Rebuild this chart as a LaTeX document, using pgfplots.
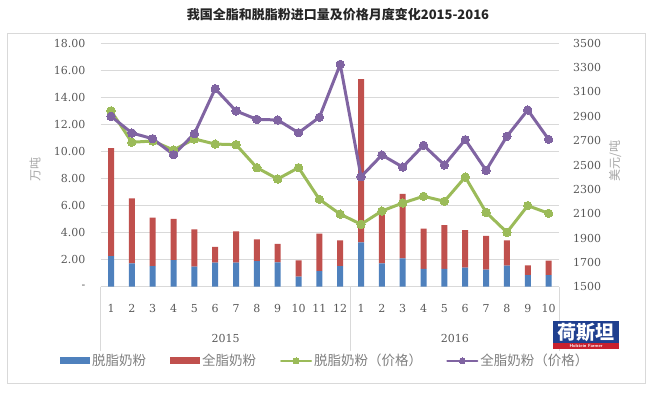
\documentclass[border=0pt]{standalone}
\usepackage{pgfplots}
\pgfplotsset{compat=1.18}
\usepackage{fontspec}
\setmainfont{DejaVu Serif}
\newfontfamily\cjk{Noto Sans CJK SC}
\definecolor{cblue}{HTML}{4F81BD}
\definecolor{cred}{HTML}{C0504D}
\definecolor{cgreen}{HTML}{9BBB59}
\definecolor{cpurple}{HTML}{8064A2}
\definecolor{gridcol}{HTML}{D9D9D9}
\definecolor{tickcol}{HTML}{595959}
\definecolor{labcol}{HTML}{A6A6A6}
\definecolor{legcol}{HTML}{7F7F7F}
\definecolor{titlecol}{HTML}{262626}
\definecolor{logoblue}{HTML}{1F3F8F}
\definecolor{logored}{HTML}{C8202E}
\pgfplotsset{
  barleg/.style={legend image code/.code={\fill[##1] (0pt,-3.5pt) rectangle (30pt,3.5pt);}},
  lineleg/.style={legend image code/.code={\draw[##1, line width=2.2pt, mark size=3pt, mark repeat=2, mark phase=2] plot coordinates {(0pt,0pt) (15pt,0pt) (30pt,0pt)};}},
}
\begin{document}
\begin{tikzpicture}[x=1pt,y=1pt]
\useasboundingbox (0,0) rectangle (647,392);
\draw[gridcol, line width=0.8pt] (7,9) rectangle (645,359);
\node[font=\cjk\bfseries\fontsize{13}{15}\selectfont, text=titlecol] at (338,377) {我国全脂和脱脂粉进口量及价格月度变化2015-2016};
\node[rotate=90, font=\cjk\fontsize{12}{14}\selectfont, text=labcol] at (35,223) {万吨};
\node[rotate=90, font=\cjk\fontsize{12}{14}\selectfont, text=labcol] at (615,231) {美元/吨};

\begin{axis}[
  at={(100.6pt,105.3pt)}, anchor=south west,
  scale only axis, width=458.4pt, height=243.4pt,
  xmin=-0.5, xmax=21.5, ymin=0, ymax=18,
  ybar stacked, bar width=6pt,
  axis x line*=bottom, axis y line*=left,
  x axis line style={gridcol, line width=0.8pt},
  y axis line style={draw=none},
  tick style={draw=none},
  xtick={0,...,21},
  xticklabels={1,2,3,4,5,6,7,8,9,10,11,12,1,2,3,4,5,6,7,8,9,10},
  xticklabel style={anchor=center, inner sep=0pt, yshift=-22pt, font=\fontsize{11}{13}\selectfont, text=tickcol},
  ytick={0,2,4,6,8,10,12,14,16,18},
  yticklabels={{-\hspace{8pt}},2.00,4.00,6.00,8.00,10.00,12.00,14.00,16.00,18.00},
  yticklabel style={anchor=east, inner sep=0pt, xshift=-15pt, font=\fontsize{11}{13}\selectfont, text=tickcol},
  ymajorgrids, grid style={gridcol, line width=0.8pt},
  clip=false,
]
\addplot[fill=cblue, draw=none] coordinates {
 (0,2.27) (1,1.73) (2,1.53) (3,1.97) (4,1.48) (5,1.78) (6,1.78) (7,1.90) (8,1.80) (9,0.74) (10,1.16) (11,1.53)
 (12,3.28) (13,1.73) (14,2.10) (15,1.31) (16,1.31) (17,1.41) (18,1.26) (19,1.55) (20,0.86) (21,0.86)};
\addplot[fill=cred, draw=none] coordinates {
 (0,7.97) (1,4.81) (2,3.57) (3,3.04) (4,2.76) (5,1.16) (6,2.32) (7,1.60) (8,1.36) (9,1.21) (10,2.76) (11,1.90)
 (12,12.08) (13,3.57) (14,4.76) (15,2.98) (16,3.25) (17,2.78) (18,2.49) (19,1.88) (20,0.72) (21,1.06)};
\draw[gridcol, line width=0.8pt] (axis cs:-0.5,0) -- ++(0pt,-64pt);
\draw[gridcol, line width=0.8pt] (axis cs:11.5,0) -- ++(0pt,-64pt);
\draw[gridcol, line width=0.8pt] (axis cs:21.5,0) -- ++(0pt,-64pt);
\node[font=\fontsize{11}{13}\selectfont, text=tickcol, yshift=-52pt] at (axis cs:5.5,0) {2015};
\node[font=\fontsize{11}{13}\selectfont, text=tickcol, yshift=-52pt] at (axis cs:16.5,0) {2016};
\end{axis}

\begin{axis}[
  at={(100.6pt,105.3pt)}, anchor=south west,
  scale only axis, width=458.4pt, height=243.4pt,
  xmin=-0.5, xmax=21.5, ymin=1500, ymax=3500,
  axis x line=none, axis y line*=right,
  y axis line style={draw=none},
  tick style={draw=none},
  ytick={1500,1700,1900,2100,2300,2500,2700,2900,3100,3300,3500},
  yticklabels={1500,1700,1900,2100,2300,2500,2700,2900,3100,3300,3500},
  yticklabel style={anchor=west, inner sep=0pt, xshift=14pt, font=\fontsize{11}{13}\selectfont, text=tickcol},
  clip=false,
  legend columns=4,
  legend style={at={(0.49,-0.305)}, anchor=center, draw=none, fill=none,
    font=\cjk\fontsize{13.5}{15}\selectfont, text=legcol,
    /tikz/every even column/.append style={column sep=22pt}},
]
\addlegendimage{fill=cblue, draw=none, barleg}
\addlegendentry{脱脂奶粉}
\addlegendimage{fill=cred, draw=none, barleg}
\addlegendentry{全脂奶粉}
\addplot[cgreen, line width=3pt, line join=round, line cap=round, mark=*, mark size=4.2pt, mark options={fill=cgreen, draw=cgreen, line width=0pt}, lineleg]
 coordinates {
 (0,2945) (1,2687) (2,2697) (3,2623) (4,2714) (5,2672) (6,2667) (7,2478) (8,2385) (9,2478) (10,2218) (11,2096)
 (12,2013) (13,2122) (14,2188) (15,2243) (16,2202) (17,2401) (18,2111) (19,1947) (20,2166) (21,2103)};
\addlegendentry{脱脂奶粉（价格）}
\addplot[cpurple, line width=3pt, line join=round, line cap=round, mark=*, mark size=4.2pt, mark options={fill=cpurple, draw=cpurple, line width=0pt}, lineleg]
 coordinates {
 (0,2900) (1,2763) (2,2716) (3,2585) (4,2757) (5,3127) (6,2944) (7,2875) (8,2870) (9,2765) (10,2892) (11,3327)
 (12,2404) (13,2582) (14,2483) (15,2662) (16,2500) (17,2708) (18,2456) (19,2736) (20,2952) (21,2711)};
\addlegendentry{全脂奶粉（价格）}
\end{axis}

\fill[logoblue] (553,43) rectangle (619,71);
\fill[logored] (553,43) rectangle (619,49);
\node[font=\cjk\bfseries\fontsize{19}{20}\selectfont, text=white, inner sep=0pt] at (586,59.5) {荷斯坦};
\node[font=\sffamily\bfseries\fontsize{4.5}{5}\selectfont, text=white, inner sep=0pt] at (586,46) {Holstein Farmer};
\end{tikzpicture}
\end{document}
